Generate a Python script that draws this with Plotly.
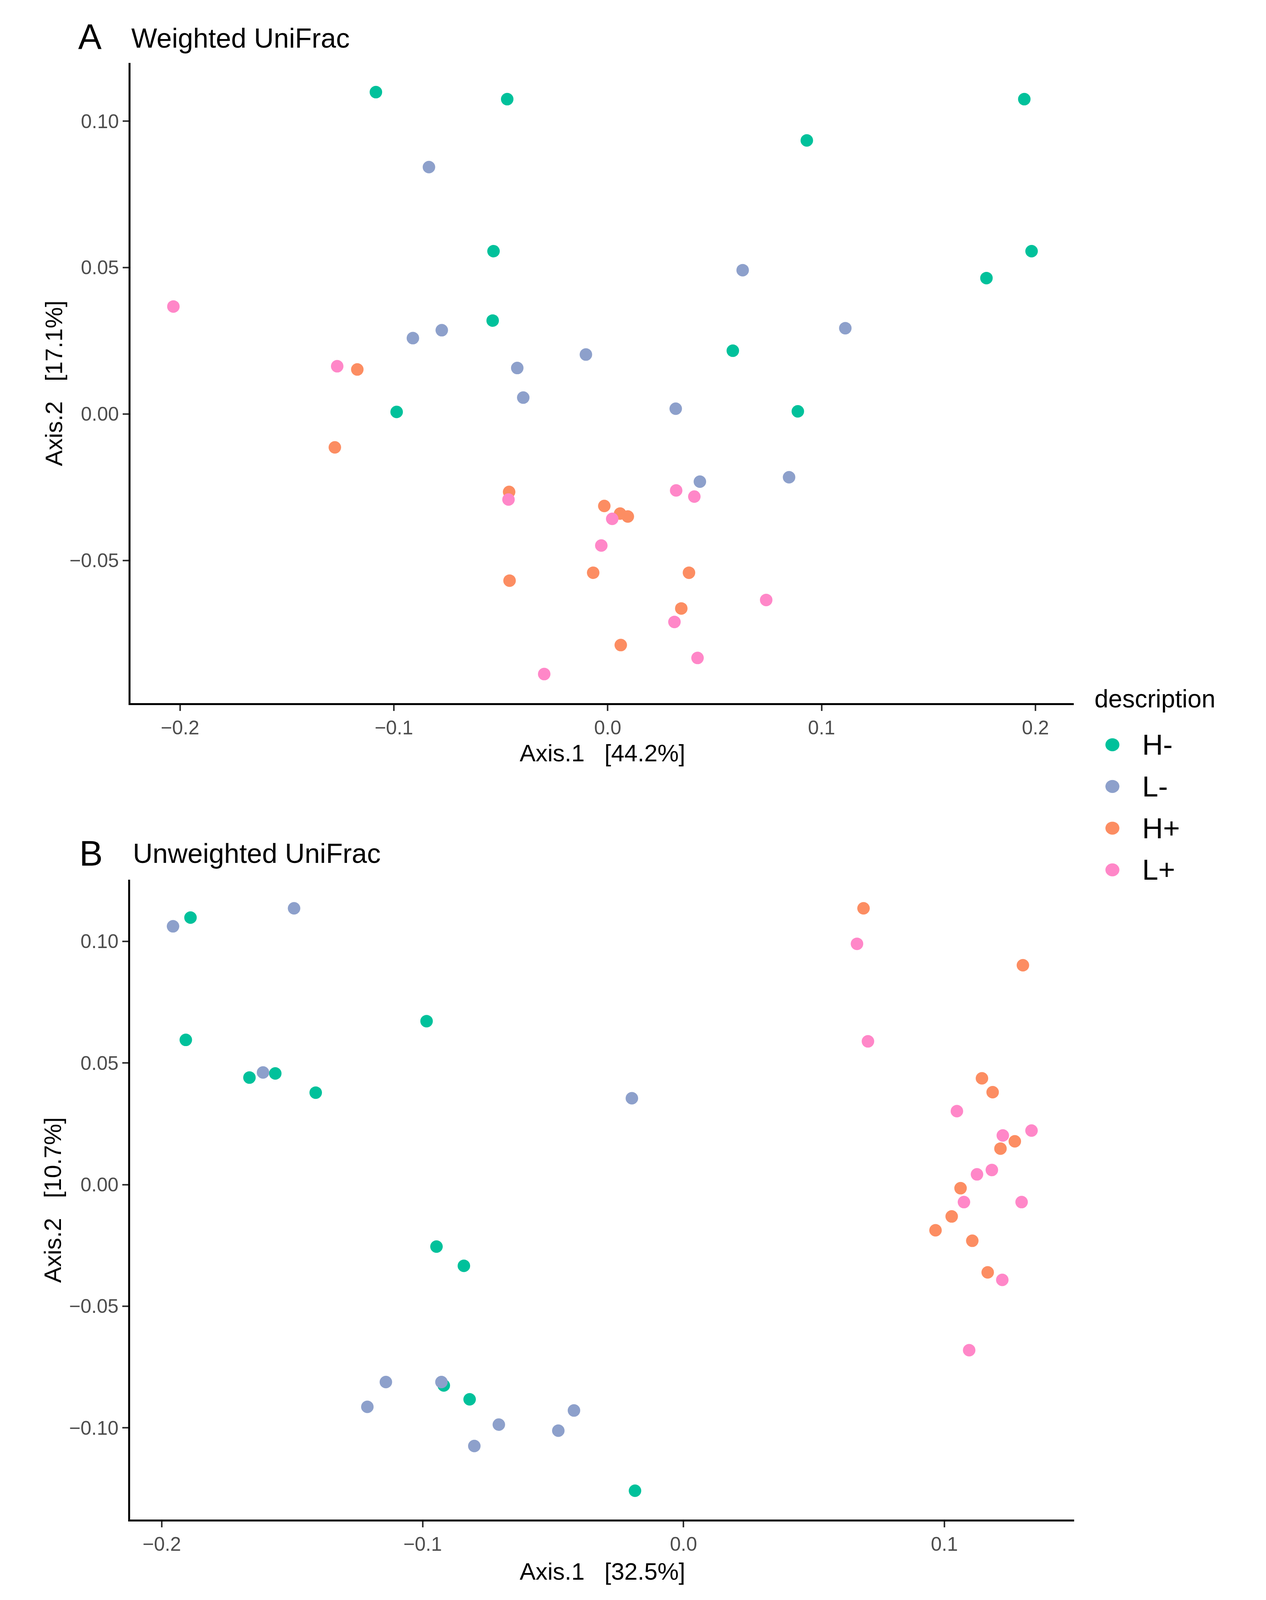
import plotly.graph_objects as go

# reference canvas, used to place things in paper coordinates
W, H = 3240, 4429
FONT = "Liberation Sans, Arial, sans-serif"

groups = ["H-", "L-", "H+", "L+"]
colors = ["#00C19B", "#8DA0CB", "#FC8D62", "#FF87C8"]

# --- A: weighted UniFrac ---
a_hm_x = [-0.1084, -0.0470, 0.1948, 0.0931, -0.0534, 0.1982, 0.1771, -0.0538, 0.0585, -0.0987, 0.0889]
a_hm_y = [0.1099, 0.1075, 0.1075, 0.0934, 0.0556, 0.0556, 0.0464, 0.0319, 0.0216, 0.0007, 0.0009]
a_lm_x = [-0.0836, 0.0631, 0.1111, -0.0911, -0.0776, -0.0102, -0.0423, -0.0395, 0.0318, 0.0431, 0.0848]
a_lm_y = [0.0843, 0.0491, 0.0293, 0.0259, 0.0286, 0.0203, 0.0157, 0.0056, 0.0018, -0.0231, -0.0216]
a_hp_x = [-0.1171, -0.1276, -0.0461, -0.0016, 0.0058, 0.0094, -0.0068, 0.0380, -0.0459, 0.0344, 0.0061]
a_hp_y = [0.0152, -0.0114, -0.0266, -0.0314, -0.0340, -0.0350, -0.0542, -0.0542, -0.0569, -0.0664, -0.0789]
a_lp_x = [-0.2031, -0.1265, -0.0464, 0.0320, 0.0405, 0.0021, -0.0030, 0.0741, 0.0312, 0.0420, -0.0297]
a_lp_y = [0.0367, 0.0163, -0.0292, -0.0261, -0.0282, -0.0358, -0.0449, -0.0635, -0.0710, -0.0833, -0.0888]

# --- B: unweighted UniFrac ---
b_hm_x = [-0.1890, -0.1908, -0.1664, -0.1565, -0.1410, -0.0985, -0.0947, -0.0842, -0.0919, -0.0820, -0.0186]
b_hm_y = [0.1098, 0.0595, 0.0440, 0.0457, 0.0378, 0.0672, -0.0255, -0.0334, -0.0826, -0.0883, -0.1259]
b_lm_x = [-0.1957, -0.1493, -0.1612, -0.0198, -0.1141, -0.0928, -0.1212, -0.0420, -0.0708, -0.0480, -0.0802]
b_lm_y = [0.1062, 0.1136, 0.0461, 0.0355, -0.0812, -0.0812, -0.0914, -0.0929, -0.0987, -0.1012, -0.1075]
b_hp_x = [0.0690, 0.1301, 0.1144, 0.1185, 0.1270, 0.1215, 0.1062, 0.1028, 0.0966, 0.1107, 0.1166]
b_hp_y = [0.1136, 0.0902, 0.0437, 0.0380, 0.0178, 0.0148, -0.0015, -0.0131, -0.0188, -0.0231, -0.0361]
b_lp_x = [0.0665, 0.0707, 0.1048, 0.1224, 0.1334, 0.1182, 0.1125, 0.1075, 0.1296, 0.1222, 0.1095]
b_lp_y = [0.0990, 0.0589, 0.0302, 0.0202, 0.0222, 0.0060, 0.0042, -0.0072, -0.0072, -0.0392, -0.0681]

a_xticks = [-0.2, -0.1, 0.0, 0.1, 0.2]
a_yticks = [-0.05, 0.0, 0.05, 0.10]
b_xticks = [-0.2, -0.1, 0.0, 0.1]
b_yticks = [-0.10, -0.05, 0.0, 0.05, 0.10]


def lab(v, nd):
    return f"{v:.{nd}f}".replace("-", "\u2212")


fig = go.Figure()

panel_a = [(a_hm_x, a_hm_y), (a_lm_x, a_lm_y), (a_hp_x, a_hp_y), (a_lp_x, a_lp_y)]
panel_b = [(b_hm_x, b_hm_y), (b_lm_x, b_lm_y), (b_hp_x, b_hp_y), (b_lp_x, b_lp_y)]

for (xs, ys), g, c in zip(panel_a, groups, colors):
    fig.add_trace(go.Scatter(x=xs, y=ys, mode="markers", name=g, showlegend=False,
                             marker=dict(color=c, size=32, line=dict(width=0)),
                             xaxis="x", yaxis="y"))
for (xs, ys), g, c in zip(panel_b, groups, colors):
    fig.add_trace(go.Scatter(x=xs, y=ys, mode="markers", name=g, showlegend=False,
                             marker=dict(color=c, size=32, line=dict(width=0)),
                             xaxis="x2", yaxis="y2"))

axis_style = dict(showline=True, linecolor="black", linewidth=5, showgrid=False,
                  zeroline=False, ticks="outside", ticklen=15, tickwidth=4,
                  tickcolor="#333333", tickfont=dict(family=FONT, size=50, color="#4D4D4D"))

fig.update_layout(
    autosize=True,
    margin=dict(l=0, r=0, t=0, b=0),
    paper_bgcolor="white", plot_bgcolor="white",
    font=dict(family=FONT, color="black"),
    xaxis=dict(domain=[0.1012, 0.85], range=[-0.2231, 0.218], anchor="y",
               tickvals=a_xticks, ticktext=[lab(v, 1) for v in a_xticks], **axis_style),
    yaxis=dict(domain=[0.5604, 0.9625], range=[-0.0987, 0.1199], anchor="x",
               tickvals=a_yticks, ticktext=[lab(v, 2) for v in a_yticks], **axis_style),
    xaxis2=dict(domain=[0.1009, 0.8503], range=[-0.2121, 0.1498], anchor="y2",
                tickvals=b_xticks, ticktext=[lab(v, 1) for v in b_xticks], **axis_style),
    yaxis2=dict(domain=[0.0475, 0.4495], range=[-0.1378, 0.1254], anchor="x2",
                tickvals=b_yticks, ticktext=[lab(v, 2) for v in b_yticks], **axis_style),
)

nb = "\u00a0\u00a0\u00a0"
notes = [
    ("A", 0.0590, 0.979, 90, "left", 0),
    ("Weighted UniFrac", 0.1012, 0.978, 70, "left", 0),
    ("B", 0.0599, 0.4658, 90, "left", 0),
    ("Unweighted UniFrac", 0.1025, 0.4658, 70, "left", 0),
    ("Axis.2" + nb + "[17.1%]", 0.0404, 0.7613, 61, "center", -90),
    ("Axis.1" + nb + "[44.2%]", 0.4759, 0.5290, 61, "center", 0),
    ("Axis.2" + nb + "[10.7%]", 0.0392, 0.2484, 61, "center", -90),
    ("Axis.1" + nb + "[32.5%]", 0.4759, 0.0150, 61, "center", 0),
    ("description", 0.8657, 0.5631, 64, "left", 0),
]
for text, x, y, size, xa, ang in notes:
    fig.add_annotation(text=text, x=x, y=y, xref="paper", yref="paper", showarrow=False,
                       xanchor=xa, yanchor="middle", textangle=ang,
                       font=dict(family=FONT, size=size, color="black"))

# legend drawn by hand so the keys keep the point size
key_x, key_y0, key_step, key_d = 2853, 2063, 116, 36
for i, (g, c) in enumerate(zip(groups, colors)):
    cy = key_y0 + i * key_step
    fig.add_shape(type="circle", xref="paper", yref="paper",
                  x0=(key_x - key_d / 2) / W, x1=(key_x + key_d / 2) / W,
                  y0=1 - (cy + key_d / 2) / H, y1=1 - (cy - key_d / 2) / H,
                  fillcolor=c, line=dict(width=0))
    fig.add_annotation(text=g, x=2927 / W, y=1 - cy / H, xref="paper", yref="paper",
                       showarrow=False, xanchor="left", yanchor="middle",
                       font=dict(family=FONT, size=74, color="black"))

fig.write_html("out.html", default_width="100%", default_height="calc(100vh - 20px)")
